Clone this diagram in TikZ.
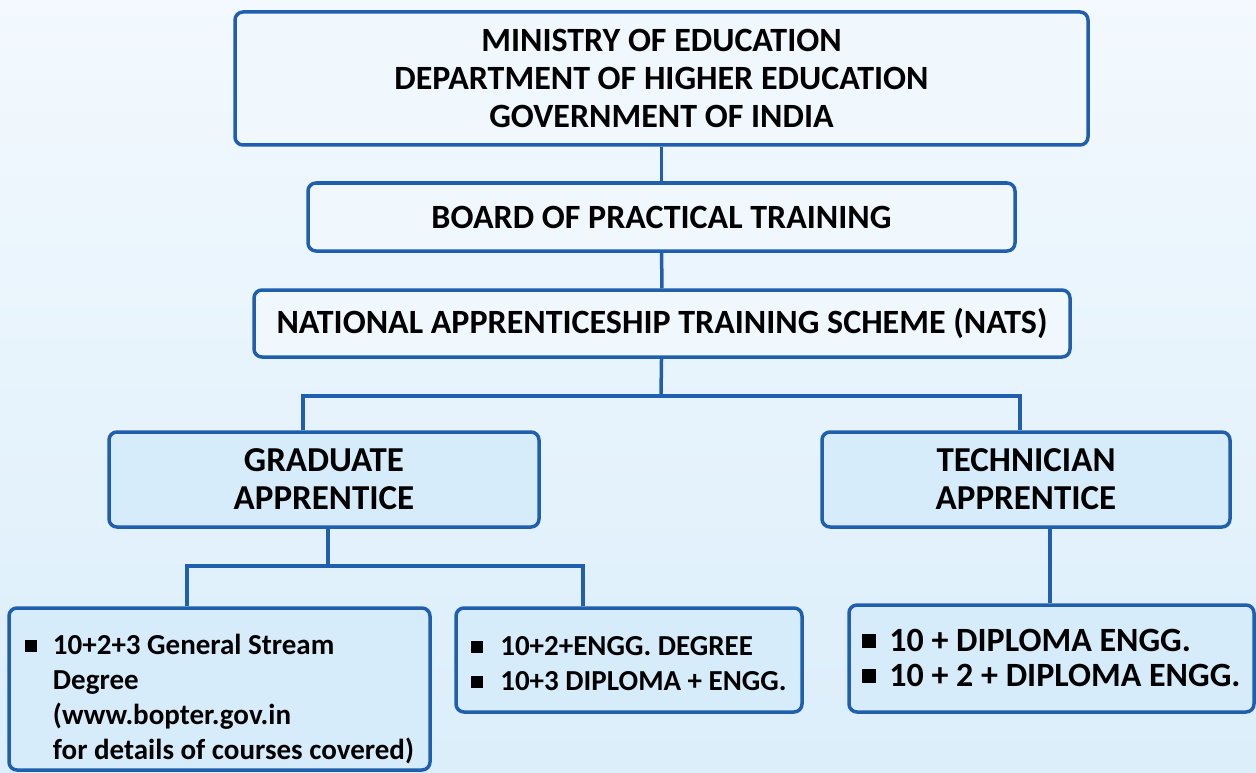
\documentclass[tikz,border=0pt]{standalone}
\usepackage{fontspec}
\setmainfont{Carlito}
\usetikzlibrary{positioning}
\definecolor{boxline}{HTML}{1F5FAD}
\definecolor{boxfill}{HTML}{D6ECFA}
\definecolor{topfill}{HTML}{F1F8FD}
\definecolor{bgtop}{HTML}{F3F9FE}
\definecolor{bgbot}{HTML}{DBEEFA}
\newcommand{\bsq}[1][12pt]{\raisebox{3pt}{\rule{#1}{#1}}}
\newcommand{\dropby}[2]{\raisebox{-#1}[\height][\depth]{#2}}

\begin{document}
\begin{tikzpicture}[x=1pt,y=-1pt,
    hdr/.style={draw=boxline,line width=3.5pt,rounded corners=8pt,fill=topfill,
        font=\bfseries\fontsize{34}{38}\selectfont,align=center,inner sep=0pt},
    sub/.style={hdr,fill=boxfill,font=\bfseries\fontsize{35}{38}\selectfont},
    lst/.style={sub,align=left,font=\bfseries\fontsize{29}{35}\selectfont},
    link/.style={draw=boxline,line width=3.5pt}]
            \fill [top color=bgtop,bottom color=bgbot] (0,0) rectangle (1256,773);
            \node [hdr,minimum width=853pt,minimum height=133pt] (Min) at (661.5,78.5) {MINISTRY OF EDUCATION\\DEPARTMENT OF HIGHER EDUCATION\\GOVERNMENT OF INDIA};
            \node [hdr,minimum width=707pt,minimum height=68pt] (Board) at (661.5,217) {BOARD OF PRACTICAL TRAINING};
            \node [hdr,minimum width=816pt,minimum height=67pt] (Nats) at (662,323.5) {NATIONAL APPRENTICESHIP TRAINING SCHEME (NATS)};
            \node [sub,minimum width=430pt,minimum height=95pt] (Grad) at (324,479.5) {GRADUATE\\APPRENTICE};
            \node [sub,minimum width=408pt,minimum height=95pt] (Tech) at (1026,479.5) {TECHNICIAN\\APPRENTICE};
            \node [lst,minimum width=421pt,minimum height=162pt] (Gen) at (219.5,689) {\dropby{11pt}{\begin{tabular}{@{}l@{\hspace{16pt}}l@{}}\bsq & 10+2+3 General Stream\\ & Degree\\ & (www.bopter.gov.in\\ & for details of courses covered)\end{tabular}}};
            \node [lst,minimum width=346pt,minimum height=104pt] (Engg) at (629,660) {\dropby{6pt}{\begin{tabular}{@{}l@{\hspace{17pt}}l@{}}\bsq & 10+2+ENGG. DEGREE\\\bsq & 10+3 DIPLOMA + ENGG.\end{tabular}}};
            \node [lst,minimum width=405pt,minimum height=107pt,font=\bfseries\fontsize{34}{35}\selectfont] (Dip) at (1051.5,658.5) {\dropby{3pt}{\begin{tabular}{@{}l@{\hspace{13pt}}l@{}}\bsq[14pt] & 10 + DIPLOMA ENGG.\\\bsq[14pt] & 10 + 2 + DIPLOMA ENGG.\end{tabular}}};

            \coordinate (s1) at (661,396);
            \coordinate (gl) at (303,396);
            \coordinate (tr) at (1020,396);
            \coordinate (s2) at (328,566);
            \coordinate (gen) at (187,566);
            \coordinate (engg) at (583,566);
            \coordinate (tl) at (1050,566);

            \draw [link] (Min) -- (Board);
            \draw [link] (Board) -- (Nats);
            \draw [link] (Nats) -- (s1);
            \draw [link] (gl |- Grad.north) -- (gl) -- (tr) -- (tr |- Tech.north);
            \draw [link] (s2 |- Grad.south) -- (s2);
            \draw [link] (gen |- Gen.north) -- (gen) -- (engg) -- (engg |- Engg.north);
            \draw [link] (tl |- Tech.south) -- (tl |- Dip.north);
        \end{tikzpicture}
\end{document}
